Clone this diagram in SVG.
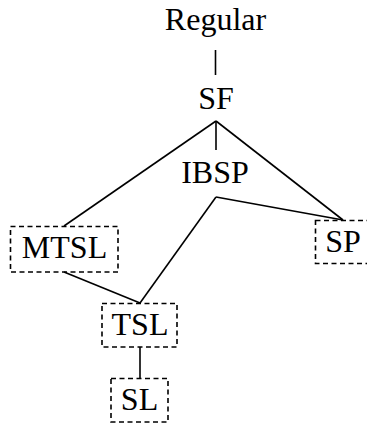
<svg xmlns="http://www.w3.org/2000/svg" width="367" height="425" viewBox="0 0 367 425">
  <style>
    text { font-family: "Liberation Serif", "Times New Roman", serif; font-size: 32px; fill: #000; text-anchor: middle; }
    .edge { stroke: #000; stroke-width: 1.6; fill: none; }
    .box { stroke: #000; stroke-width: 1.6; fill: none; stroke-dasharray: 5 3.5; }
  </style>
  <rect width="367" height="425" fill="#fff"/>

  <g id="connectors">
    <line class="edge" x1="215.5" y1="50" x2="215.5" y2="75"/>
    <line class="edge" x1="216" y1="121" x2="216" y2="150"/>
    <line class="edge" x1="216" y1="121" x2="64" y2="226"/>
    <line class="edge" x1="216" y1="121" x2="343" y2="220"/>
    <line class="edge" x1="216" y1="197" x2="140" y2="303"/>
    <line class="edge" x1="216" y1="197" x2="343" y2="220"/>
    <line class="edge" x1="64" y1="272" x2="140" y2="303"/>
    <line class="edge" x1="140" y1="347" x2="140" y2="378"/>
  </g>

  <g id="regular">
    <text x="215.5" y="30">Regular</text>
  </g>
  <g id="sf">
    <text x="216" y="109">SF</text>
  </g>
  <g id="ibsp">
    <text x="215" y="183">IBSP</text>
  </g>
  <g id="mtsl">
    <rect class="box" x="10.5" y="226.5" width="107.5" height="45.5"/>
    <text x="64.5" y="258">MTSL</text>
  </g>
  <g id="sp">
    <rect class="box" x="315.5" y="220.5" width="57" height="43"/>
    <text x="343" y="252">SP</text>
  </g>
  <g id="tsl">
    <rect class="box" x="102" y="303.5" width="75" height="43.5"/>
    <text x="140" y="335">TSL</text>
  </g>
  <g id="sl">
    <rect class="box" x="111" y="378.5" width="57" height="43.5"/>
    <text x="139.5" y="410">SL</text>
  </g>
</svg>
